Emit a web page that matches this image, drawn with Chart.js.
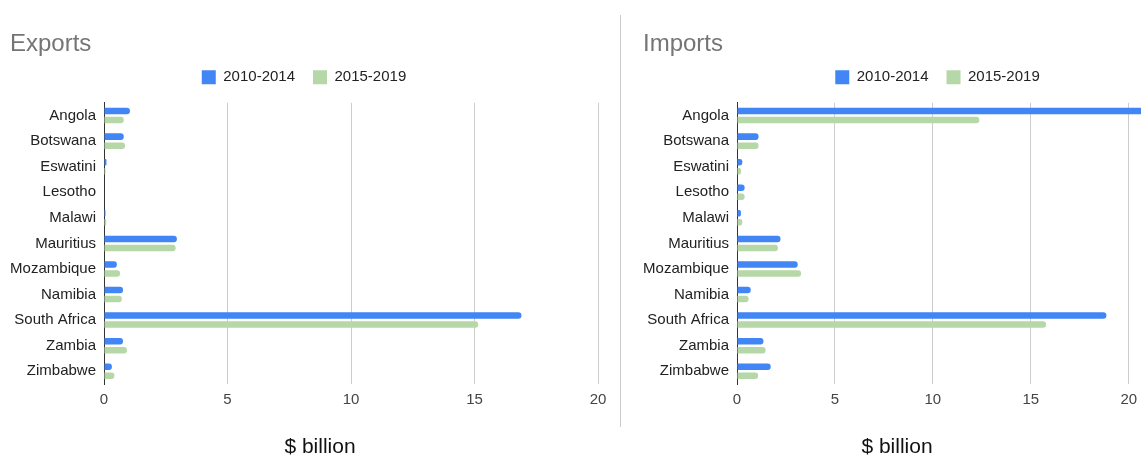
<!DOCTYPE html>
<html>
<head>
<meta charset="utf-8">
<title>Exports and Imports</title>
<script src="https://cdn.jsdelivr.net/npm/chart.js@4/dist/chart.umd.min.js"></script>
<style>
  body {
    margin: 0;
    width: 1141px;
    height: 455px;
    overflow: hidden;
    position: relative;
    background: #fff;
    font-family: "Liberation Sans", Arial, sans-serif;
  }
  .panel {
    position: absolute;
    top: 0;
  }
  #left { left: 0; }
  #right { left: 622px; }
  .divider {
    position: absolute;
    left: 620px;
    top: 15px;
    width: 1px;
    height: 412px;
    background: #cccccc;
  }
  .caption {
    position: absolute;
    top: 435px;
    width: 200px;
    text-align: center;
    font-size: 21px;
    line-height: 21px;
    color: #111;
  }
</style>
</head>
<body>
<div class="panel" id="left"><canvas id="exportsChart" width="620" height="455"></canvas></div>
<div class="divider"></div>
<div class="panel" id="right"><canvas id="importsChart" width="620" height="455"></canvas></div>
<div class="caption" style="left:220px">$ billion</div>
<div class="caption" style="left:797px">$ billion</div>

<script>
"use strict";

// data ($ billion)
const countries = ["Angola", "Botswana", "Eswatini", "Lesotho", "Malawi", "Mauritius",
  "Mozambique", "Namibia", "South Africa", "Zambia", "Zimbabwe"];
const periods = ["2010-2014", "2015-2019"];

const exports2010 = [1.05, 0.8, 0.1, 0.02, 0.06, 2.95, 0.52, 0.77, 16.9, 0.77, 0.32];
const exports2015 = [0.8, 0.85, 0.06, 0.02, 0.09, 2.9, 0.65, 0.72, 15.15, 0.93, 0.42];

// Angola 2010-2014 runs off the edge of the picture
const imports2010 = [21, 1.1, 0.27, 0.39, 0.2, 2.22, 3.1, 0.7, 18.86, 1.35, 1.72];
const imports2015 = [12.37, 1.1, 0.2, 0.39, 0.27, 2.09, 3.27, 0.59, 15.78, 1.46, 1.08];

const xTicks = [0, 5, 10, 15, 20, 25];

const blue = "#4285f4";
const green = "#b6d7a8";
const fontFamily = '"Liberation Sans", Arial, sans-serif';

// a bit more room between the legend and the plot
const legendSpacing = {
  id: "legendSpacing",
  beforeInit(chart) {
    const fit = chart.legend.fit;
    chart.legend.fit = function () {
      fit.call(this);
      this.height += 8;
    };
  },
};

function makeConfig(title, first, second, xMax, padLeft, padRight, axisWidth) {
  return {
    type: "bar",
    data: {
      labels: countries,
      datasets: [
        {
          label: periods[0],
          data: first,
          backgroundColor: blue,
          borderRadius: 3,
          borderSkipped: "start",
          categoryPercentage: 0.707,
          barPercentage: 0.72,
        },
        {
          label: periods[1],
          data: second,
          backgroundColor: green,
          borderRadius: 3,
          borderSkipped: "start",
          categoryPercentage: 0.707,
          barPercentage: 0.72,
        },
      ],
    },
    plugins: [legendSpacing],
    options: {
      indexAxis: "y",
      responsive: false,
      animation: false,
      layout: {
        padding: { left: padLeft, right: padRight, top: 8, bottom: 39 },
      },
      plugins: {
        title: {
          display: true,
          text: title,
          align: "start",
          color: "#757575",
          font: { family: fontFamily, size: 24, weight: "normal", lineHeight: 1.2 },
          padding: { top: 22, bottom: -7 },
        },
        legend: {
          display: true,
          position: "top",
          labels: {
            boxWidth: 14,
            boxHeight: 14,
            padding: 18,
            color: "#222",
            font: { family: fontFamily, size: 15 },
          },
        },
        tooltip: { enabled: false },
      },
      scales: {
        x: {
          min: 0,
          max: xMax,
          afterBuildTicks: (scale) => {
            scale.ticks = xTicks.filter((v) => v <= xMax).map((v) => ({ value: v }));
          },
          grid: { color: "#cccccc", lineWidth: 1, drawTicks: false },
          border: { display: false },
          ticks: {
            color: "#444",
            padding: 7,
            font: { family: fontFamily, size: 15 },
          },
        },
        y: {
          grid: { display: false, drawTicks: false },
          border: { display: true, color: "#333", width: 1 },
          afterFit: (scale) => {
            scale.width = axisWidth;
          },
          ticks: {
            color: "#222",
            padding: 8,
            font: { family: fontFamily, size: 15 },
          },
        },
      },
    },
  };
}

new Chart(document.getElementById("exportsChart"),
  makeConfig("Exports", exports2010, exports2015, 20, 10, 22, 94));

new Chart(document.getElementById("importsChart"),
  makeConfig("Imports", imports2010, imports2015, 25, 21, 10, 94));
</script>
</body>
</html>
